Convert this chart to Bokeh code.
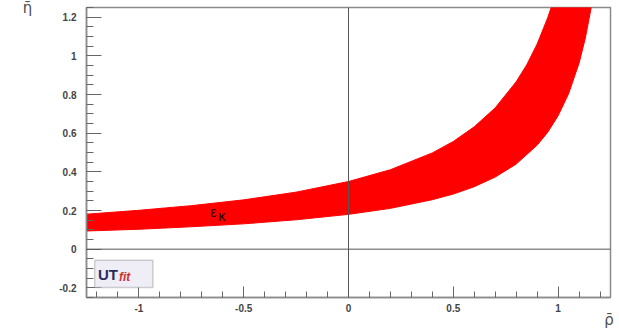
from bokeh.plotting import figure
from bokeh.models import FixedTicker, Label, BoxAnnotation, Span, Range1d
from bokeh.embed import file_html
from bokeh.resources import INLINE
import numpy as np

# Upper edge of the epsilon_K band (rho-bar, eta-bar)
rho_upper = [-1.25, -1.0, -0.75, -0.5, -0.25, 0.0, 0.2, 0.4, 0.5, 0.6, 0.7, 0.8, 0.85, 0.9, 0.95, 0.967]
eta_upper = [0.181, 0.201, 0.225, 0.255, 0.295, 0.350, 0.411, 0.498, 0.557, 0.633, 0.731, 0.866, 0.953, 1.061, 1.196, 1.25]
# Lower edge of the band
rho_lower = [-1.25, -1.0, -0.75, -0.5, -0.25, 0.0, 0.2, 0.4, 0.5, 0.6, 0.7, 0.8, 0.9, 0.95, 1.0, 1.05, 1.1, 1.13, 1.158]
eta_lower = [0.094, 0.103, 0.116, 0.131, 0.152, 0.180, 0.211, 0.256, 0.285, 0.323, 0.373, 0.440, 0.538, 0.604, 0.690, 0.804, 0.962, 1.092, 1.25]

x_ticks = [-1, -0.5, 0, 0.5, 1]
x_tick_labels = ["-1", "-0.5", "0", "0.5", "1"]
y_ticks = [-0.2, 0, 0.2, 0.4, 0.6, 0.8, 1.0, 1.2]
y_tick_labels = ["-0.2", "0", "0.2", "0.4", "0.6", "0.8", "1", "1.2"]

p = figure(width=619, height=334, output_backend="svg", toolbar_location=None,
           x_range=Range1d(-1.25, 1.25), y_range=Range1d(-0.25, 1.25),
           min_border_left=86, min_border_right=9, min_border_top=7, min_border_bottom=37)
p.grid.visible = False
p.outline_line_color = "#8a8a8a"
p.outline_line_width = 1.5
p.background_fill_color = "white"
p.border_fill_color = "white"

# band
xs = list(rho_upper) + list(reversed(rho_lower))
ys = list(eta_upper) + list(reversed(eta_lower))
p.patch(xs, ys, fill_color="#ff0000", line_color="#ff0000", line_width=1)

# zero lines
p.add_layout(Span(location=0, dimension="height", line_color="#555555", line_width=1))
p.add_layout(Span(location=0, dimension="width", line_color="#555555", line_width=1))

font = "Liberation Sans"
for ax in (p.xaxis[0], p.yaxis[0]):
    ax.axis_line_color = "#8a8a8a"
    ax.axis_line_width = 1.5
    ax.major_tick_line_color = "#666666"
    ax.minor_tick_line_color = "#666666"
    ax.major_tick_out = 0
    ax.minor_tick_out = 0
    ax.major_label_text_font = font
    ax.major_label_text_font_style = "bold"
    ax.major_label_text_font_size = "10px"
    ax.major_label_text_color = "#444444"
    ax.axis_label_text_font = "DejaVu Sans"
    ax.axis_label_text_font_style = "normal"
    ax.axis_label_text_font_size = "15px"
    ax.axis_label_text_color = "#505050"
    ax.axis_label_orientation = "horizontal"
    ax.axis_label_align = "end"

p.xaxis.ticker = FixedTicker(ticks=x_ticks, minor_ticks=list(np.round(np.arange(-1.2, 1.25, 0.1), 2)))
p.xaxis.major_label_overrides = {t: l for t, l in zip(x_ticks, x_tick_labels)}
p.xaxis.major_tick_in = 11
p.xaxis.minor_tick_in = 6
p.xaxis.major_label_standoff = 6
p.xaxis.axis_label = "\u03c1\u0304\u2009"
p.xaxis.axis_label_standoff = -4

p.yaxis.ticker = FixedTicker(ticks=y_ticks, minor_ticks=list(np.round(np.arange(-0.25, 1.26, 0.05), 2)))
p.yaxis.major_label_overrides = {t: l for t, l in zip(y_ticks, y_tick_labels)}
p.yaxis.major_tick_in = 15
p.yaxis.minor_tick_in = 7
p.yaxis.major_label_standoff = 10
p.yaxis.axis_label = "\u03b7\u0304"
p.yaxis.axis_label_standoff = 24

# epsilon_K label
p.add_layout(Label(x=-0.66, y=0.19, text="\u03b5", text_font=font, text_font_size="14px",
                   text_color="#300000", text_baseline="middle", text_align="left"))
p.add_layout(Label(x=-0.62, y=0.165, text="K", text_font=font, text_font_style="bold", text_font_size="10px",
                   text_color="#300000", text_baseline="middle", text_align="left"))

# UTfit logo
p.add_layout(BoxAnnotation(left=-1.211, right=-0.933, top=-0.057, bottom=-0.198,
                           fill_color="#efedf6", fill_alpha=1, line_color="#6a6a6a", line_width=1.5))
p.add_layout(Label(x=-1.195, y=-0.13, text="UT", text_font=font, text_font_style="bold",
                   text_font_size="15px", text_color="#2c2c5c", text_baseline="middle"))
p.add_layout(Label(x=-1.095, y=-0.145, text="fit", text_font=font, text_font_style="bold italic",
                   text_font_size="12px", text_color="#d03030", text_baseline="middle"))

open("out.html", "w").write(file_html(p, INLINE))
